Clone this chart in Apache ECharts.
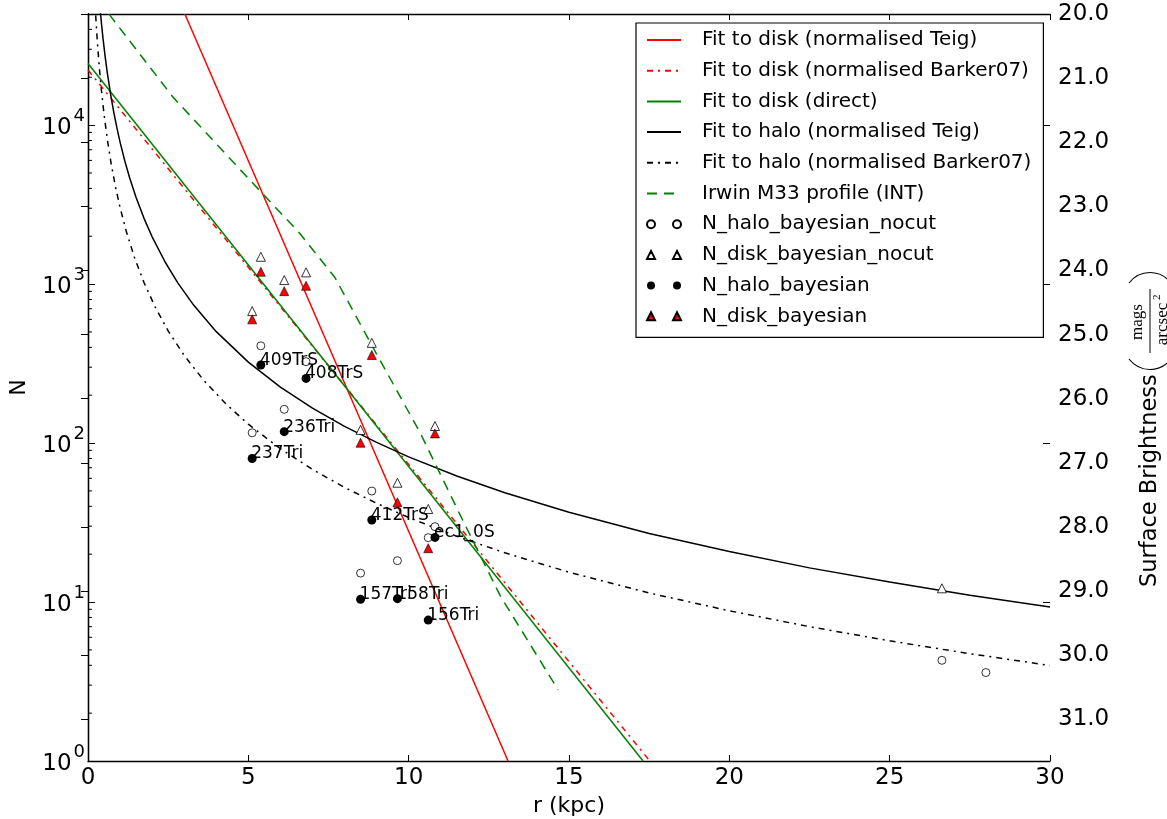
<!DOCTYPE html>
<html><head><meta charset="utf-8">
<script src="https://cdn.jsdelivr.net/npm/echarts@6/dist/echarts.min.js"></script>
<style>html,body{margin:0;padding:0;background:#fff}#c{width:1167px;height:819px}</style>
</head><body><div id="c"></div>
<script>
// ---- data ----
const fieldNames = ['237Tri','409TrS','236Tri','408TrS','157Tri','412TrS','158Tri','156Tri','ec1_0S'];
const fieldR     = [5.12, 5.39, 6.12, 6.80, 8.50, 8.85, 9.65, 10.61, 10.82];
const haloNocut  = [116, 409, 163, 325, 15.2, 49.9, 18.2, 25.4, 29.8];
const haloBayes  = [80, 310, 118, 255, 10.4, 32.8, 10.5, 7.7, 25.5];
const diskNocut  = [676, 1485, 1060, 1185, 121, 427, 56.3, 38.5, 128];
const diskBayes  = [600, 1195, 903, 976, 100.5, 358, 42.4, 21.8, 115];
const outerHaloR = [26.63, 28.0];
const outerHaloNocut = [4.3, 3.6];
const outerDiskR = [26.63];
const outerDiskNocut = [12.2];

const teigDiskR = [3.02, 13.10];
const teigDiskN = [50000, 1];
const barkerDiskR = [0, 17.52];
const barkerDiskN = [22200, 1];
const directDiskR = [0, 17.31];
const directDiskN = [24400, 1];
const teigHaloR = [0.38,0.42,0.47,0.53,0.6,0.7,0.8,0.9,1.0,1.15,1.3,1.5,1.75,2.0,2.4,2.8,3.3,4,5,6,7,8,9,10,11.5,13,15,17.5,20,22.5,25,27.5,30];
const teigHaloN = [53100,43550,34870,27480,21490,15850,12170,9636,7820,5930,4653,3503,2582,1983,1382,1018,735,502,323,225,166,127.4,100.9,81.9,62.1,48.7,36.7,27.0,20.8,16.4,13.35,11.05,9.3];
const barkerHaloR = [0.24,0.27,0.31,0.36,0.42,0.5,0.6,0.72,0.86,1.0,1.2,1.45,1.75,2.1,2.5,3,3.6,4.3,5,6,7,8,9,10,11.5,13,15,17.5,20,22.5,25,27.5,30];
const barkerHaloN = [49000,38950,29750,22230,16460,11710,8208,5753,4068,3030,2124,1469,1018,713.6,507.7,355.9,249.4,176.3,131.4,92.1,68.2,52.6,41.8,34.0,25.9,20.4,15.4,11.4,8.81,7.0,5.70,4.73,3.99];
const irwinR = [0.655, 2.65, 5.05, 6.6, 7.7, 9.0, 10.35, 11.6, 12.85, 14.66];
const irwinN = [49900, 15000, 4510, 2090, 1100, 363, 117, 35.5, 11.0, 2.8];

const xTicks = [0, 5, 10, 15, 20, 25, 30];
const minorTicksN = [2,3,4,5,6,7,8,9,20,30,40,50,60,70,80,90,200,300,400,500,600,700,800,900,
  2000,3000,4000,5000,6000,7000,8000,9000,20000,30000,40000];
const legendNames = ['Fit to disk (normalised Teig)','Fit to disk (normalised Barker07)','Fit to disk (direct)',
  'Fit to halo (normalised Teig)','Fit to halo (normalised Barker07)','Irwin M33 profile (INT)',
  'N_halo_bayesian_nocut','N_disk_bayesian_nocut','N_halo_bayesian','N_disk_bayesian'];

// ---- helpers ----
const zip = (a, b) => a.map((v, i) => [v, b[i]]);
const FONT = 'DejaVu Sans';
const twoCircles = 'path://M0 0M34 14M0 7a4 4 0 1 0 8 0a4 4 0 1 0 -8 0ZM26 7a4 4 0 1 0 8 0a4 4 0 1 0 -8 0Z';
const twoTriangles = 'path://M0 0M34 14M4 3L8 11L0 11ZM30 3L34 11L26 11Z';
const hiddenSym = { color: 'rgba(0,0,0,0)', borderColor: 'rgba(0,0,0,0)', borderWidth: 0, opacity: 0 };

function lineSeries(name, xs, ys, color, type) {
  return { name, type: 'line', data: zip(xs, ys), symbol: 'none', showSymbol: false, smooth: false,
    clip: true, silent: true, lineStyle: { color, width: 1.5, type }, itemStyle: { color }, z: 2 };
}

const chart = echarts.init(document.getElementById('c'), null, { renderer: 'canvas' });
const axisLineStyle = { color: '#000', width: 1.3 };
const option = {
  animation: false,
  backgroundColor: '#fff',
  textStyle: { fontFamily: FONT },
  grid: { left: 88, right: 117, top: 14, bottom: 58, containLabel: false, outerBoundsMode: 'none' },
  xAxis: [
    { type: 'value', min: 0, max: 30, interval: 5, position: 'bottom',
      name: 'r (kpc)', nameLocation: 'middle', nameGap: 30,
      nameTextStyle: { fontSize: 22, color: '#000', fontFamily: FONT },
      axisLine: { lineStyle: axisLineStyle }, axisTick: { inside: true, length: 6, lineStyle: { color: '#000' } },
      axisLabel: { fontSize: 23, color: '#000', margin: 6, fontFamily: FONT,
        formatter: v => xTicks.includes(v) ? String(v) : '' },
      splitLine: { show: false } },
    { type: 'value', min: 0, max: 30, interval: 5, position: 'top',
      axisLine: { lineStyle: axisLineStyle }, axisTick: { inside: true, length: 6, lineStyle: { color: '#000' } },
      axisLabel: { show: false }, splitLine: { show: false } }
  ],
  yAxis: [
    { type: 'log', logBase: 10, min: 1, max: 50000, position: 'left',
      name: 'N', nameLocation: 'middle', nameGap: 58,
      nameTextStyle: { fontSize: 22, color: '#000', fontFamily: FONT },
      axisLine: { lineStyle: axisLineStyle }, axisTick: { inside: true, length: 7, lineStyle: { color: '#000' } },
      axisLabel: { margin: 3, showMaxLabel: false,
        formatter: v => { const e = Math.round(Math.log10(v)); return Math.abs(Math.pow(10, e) - v) < 1e-6 * v ? '{b|10}{s|' + e + '}' : ''; },
        rich: { b: { fontSize: 23, color: '#000', fontFamily: FONT, lineHeight: 36, padding: [6, 0, 0, 0] },
                s: { fontSize: 18, color: '#000', fontFamily: FONT, verticalAlign: 'top', padding: [0, 0, 0, 2] } } },
      splitLine: { show: false } },
    { type: 'value', min: 20, max: 31.65, interval: 1, inverse: true, position: 'right',
      axisLine: { lineStyle: axisLineStyle }, axisTick: { inside: true, length: 7, lineStyle: { color: '#000' } },
      axisLabel: { fontSize: 23, color: '#000', margin: 8, fontFamily: FONT, showMaxLabel: false,
        formatter: v => (Math.abs(v - Math.round(v)) < 1e-6 ? v.toFixed(1) : '') },
      splitLine: { show: false } },
    { type: 'log', logBase: 10, min: 1, max: 50000, position: 'right',
      axisLine: { show: false }, axisTick: { inside: true, length: 7, lineStyle: { color: '#000' } },
      axisLabel: { show: false }, splitLine: { show: false } }
  ],
  legend: {
    orient: 'vertical', left: 636, top: 23,
    padding: [7, 12, 11, 10], itemGap: 10.7, itemWidth: 34, itemHeight: 14,
    borderColor: '#000', borderWidth: 1.2, backgroundColor: '#fff', selectedMode: false,
    textStyle: { fontSize: 20, color: '#000', fontFamily: FONT, lineHeight: 20, padding: [0, 0, 0, 16] },
    data: [
      { name: legendNames[0], itemStyle: hiddenSym }, { name: legendNames[1], itemStyle: hiddenSym },
      { name: legendNames[2], itemStyle: hiddenSym }, { name: legendNames[3], itemStyle: hiddenSym },
      { name: legendNames[4], itemStyle: hiddenSym }, { name: legendNames[5], itemStyle: hiddenSym },
      { name: legendNames[6], icon: twoCircles }, { name: legendNames[7], icon: twoTriangles },
      { name: legendNames[8], icon: twoCircles }, { name: legendNames[9], icon: twoTriangles }
    ]
  },
  graphic: [
    { type: 'group', x: 1150, y: 587, rotation: Math.PI / 2, silent: true, children: [
      { type: 'text', x: 0, y: 0, style: { text: 'Surface Brightness', fontSize: 22.5, fontFamily: FONT, fill: '#000', textAlign: 'left', textVerticalAlign: 'middle' } },
      { type: 'bezierCurve', shape: { x1: 228, y1: -21, x2: 228, y2: 21, cpx1: 214, cpy1: -10, cpx2: 214, cpy2: 10 }, style: { stroke: '#000', lineWidth: 1.2, fill: null } },
      { type: 'text', x: 265, y: -12, style: { text: 'mags', fontSize: 17, fontFamily: 'Liberation Serif', fill: '#000', textAlign: 'center', textVerticalAlign: 'middle' } },
      { type: 'line', shape: { x1: 234, y1: 0, x2: 298, y2: 0 }, style: { stroke: '#000', lineWidth: 1 } },
      { type: 'text', x: 263, y: 13, style: { text: 'arcsec', fontSize: 17, fontFamily: 'Liberation Serif', fill: '#000', textAlign: 'center', textVerticalAlign: 'middle' } },
      { type: 'text', x: 287, y: 7, style: { text: '2', fontSize: 11, fontFamily: 'Liberation Serif', fill: '#000', textAlign: 'left', textVerticalAlign: 'middle' } },
      { type: 'bezierCurve', shape: { x1: 304, y1: -21, x2: 304, y2: 21, cpx1: 318, cpy1: -10, cpx2: 318, cpy2: 10 }, style: { stroke: '#000', lineWidth: 1.2, fill: null } }
    ] }
  ],
  series: [
    lineSeries(legendNames[0], teigDiskR, teigDiskN, '#ff0000', 'solid'),
    lineSeries(legendNames[1], barkerDiskR, barkerDiskN, '#ff0000', [6, 5, 2, 5]),
    lineSeries(legendNames[2], directDiskR, directDiskN, '#008000', 'solid'),
    lineSeries(legendNames[3], teigHaloR, teigHaloN, '#000000', 'solid'),
    lineSeries(legendNames[4], barkerHaloR, barkerHaloN, '#000000', [6, 5, 2, 5]),
    lineSeries(legendNames[5], irwinR, irwinN, '#008000', [10, 7]),
    { type: 'custom', silent: true, clip: false, z: 1,
      data: minorTicksN.map(v => [0, v]),
      renderItem: (params, api) => {
        const p = api.coord([0, api.value(1)]);
        return { type: 'line', shape: { x1: p[0], y1: p[1], x2: p[0] + 4, y2: p[1] }, style: { stroke: '#000', lineWidth: 1 } };
      } },
    { name: legendNames[6], type: 'scatter', symbol: 'circle', symbolSize: 8, silent: true, z: 3,
      data: zip(fieldR, haloNocut).concat(zip(outerHaloR, outerHaloNocut)),
      itemStyle: { color: '#ffffff', borderColor: '#000', borderWidth: 0.8, opacity: 1 } },
    { name: legendNames[7], type: 'scatter', symbol: 'triangle', symbolSize: 9, silent: true, z: 3,
      data: zip(fieldR, diskNocut).concat(zip(outerDiskR, outerDiskNocut)),
      itemStyle: { color: '#ffffff', borderColor: '#000', borderWidth: 0.8, opacity: 1 } },
    { name: legendNames[8], type: 'scatter', symbol: 'circle', symbolSize: 9, silent: true, z: 4,
      data: fieldR.map((r, i) => ({ value: [r, haloBayes[i]], name: fieldNames[i] })),
      itemStyle: { color: '#000', opacity: 1 },
      label: { show: true, position: 'inside', align: 'left', verticalAlign: 'bottom', offset: [-1, 4],
        formatter: p => p.name, fontSize: 17, color: '#000', fontFamily: FONT } },
    { name: legendNames[9], type: 'scatter', symbol: 'triangle', symbolSize: 9, silent: true, z: 3,
      data: zip(fieldR, diskBayes),
      itemStyle: { color: '#ff0000', borderColor: '#000', borderWidth: 0.6, opacity: 1 } }
  ]
};
chart.setOption(option);
</script></body></html>
